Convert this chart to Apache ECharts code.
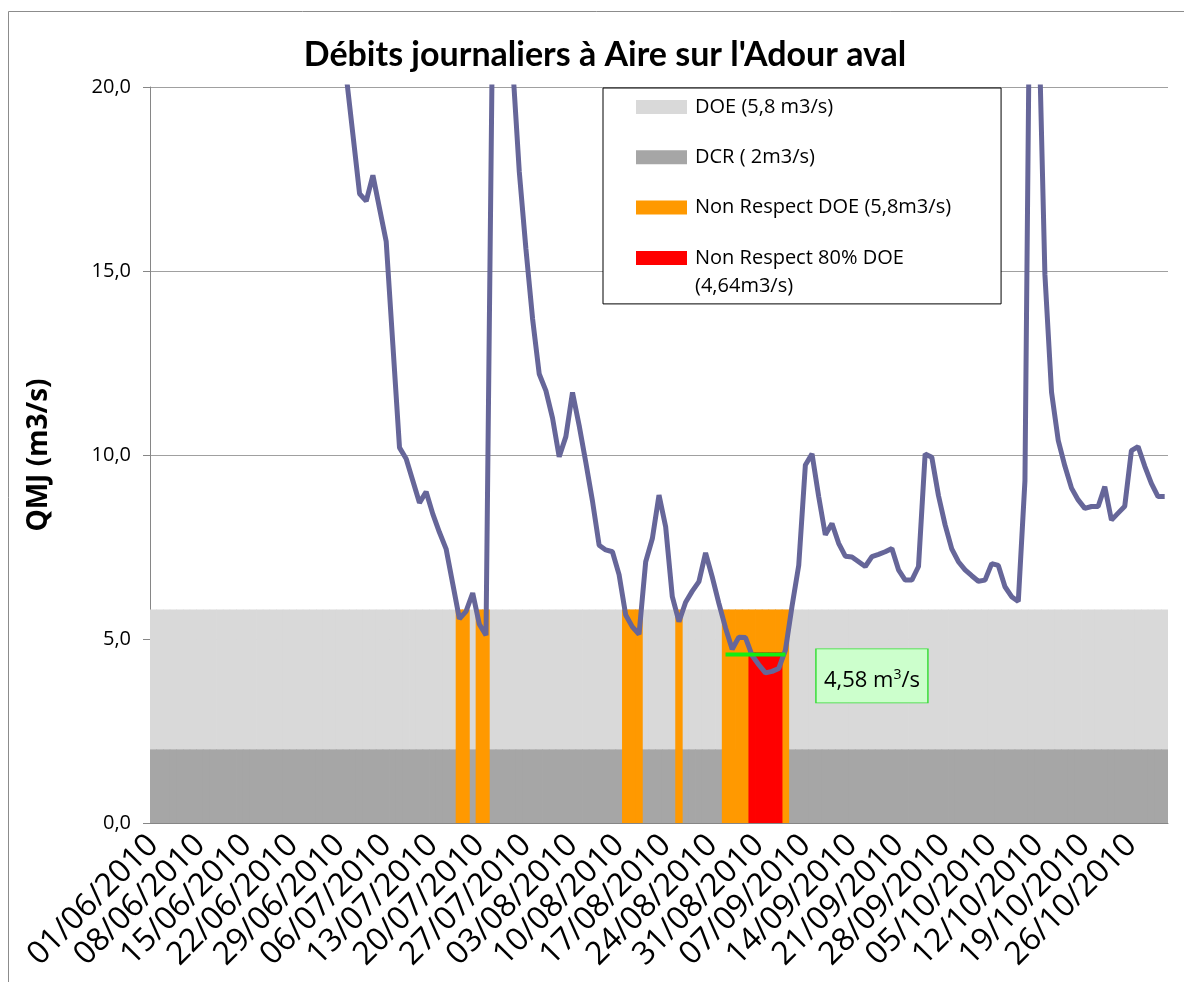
<!DOCTYPE html>
<html>
<head>
<meta charset="utf-8">
<script src="https://cdn.jsdelivr.net/npm/echarts@6/dist/echarts.min.js"></script>
<style>
html, body { margin: 0; padding: 0; background: #fff; }
#chart { width: 1184px; height: 982px; }
</style>
</head>
<body>
<div id="chart"></div>
<script>
// one category per day, 01/06/2010 -> 31/10/2010
const days = [];
for (let d = new Date(Date.UTC(2010, 5, 1)); d <= new Date(Date.UTC(2010, 9, 31)); d.setUTCDate(d.getUTCDate() + 1)) {
  const dd = String(d.getUTCDate()).padStart(2, '0');
  const mm = String(d.getUTCMonth() + 1).padStart(2, '0');
  days.push(dd + '/' + mm + '/2010');
}

// daily flow (m3/s), one row per week
const flow = [
  38, 41, 44, 40, 36, 33, 31,
  35, 42, 48, 45, 39, 35, 32,
  30, 34, 47, 55, 50, 43, 37,
  33, 30, 28, 27, 26, 25, 24,
  23, 20.3, 18.7, 17.1, 16.9, 17.6, 16.7,
  15.8, 13.0, 10.2, 9.9, 9.3, 8.7, 9.0,
  8.4, 7.9, 7.45, 6.5, 5.55, 5.75, 6.25,
  5.4, 5.1, 22, 36, 27, 20.6, 17.7,
  15.6, 13.7, 12.2, 11.75, 11.0, 9.95, 10.5,
  11.7, 10.8, 9.8, 8.75, 7.55, 7.42, 7.37,
  6.75, 5.65, 5.33, 5.13, 7.1, 7.73, 8.91,
  8.05, 6.15, 5.47, 6.0, 6.3, 6.56, 7.34,
  6.69, 5.97, 5.3, 4.72, 5.05, 5.04, 4.55,
  4.3, 4.08, 4.12, 4.2, 4.7, 5.9, 7.0,
  9.73, 10.03, 8.87, 7.83, 8.14, 7.6, 7.25,
  7.23, 7.1, 6.97, 7.24, 7.3, 7.37, 7.46,
  6.88, 6.6, 6.6, 6.97, 10.03, 9.94, 8.9,
  8.1, 7.45, 7.1, 6.88, 6.72, 6.57, 6.6,
  7.05, 7.0, 6.42, 6.15, 6.02, 9.3, 28.4,
  22.4, 14.9, 11.7, 10.4, 9.7, 9.1, 8.78,
  8.55, 8.6, 8.6, 9.14, 8.23, 8.42, 8.61,
  10.12, 10.23, 9.7, 9.23, 8.87, 8.87
];

const doeLevel = 5.8;
const dcrLevel = 2;
const doe80Level = 4.64;
const minFlow = 4.58;

const doeBreachDays = [
  '17/07/2010', '18/07/2010', '20/07/2010', '21/07/2010',
  '11/08/2010', '12/08/2010', '13/08/2010', '19/08/2010',
  '26/08/2010', '27/08/2010', '28/08/2010', '29/08/2010', '30/08/2010',
  '31/08/2010', '01/09/2010', '02/09/2010', '03/09/2010', '04/09/2010'
];
const doe80BreachDays = ['30/08/2010', '31/08/2010', '01/09/2010', '02/09/2010', '03/09/2010'];
const minFlowDays = [
  '26/08/2010', '27/08/2010', '28/08/2010', '29/08/2010', '30/08/2010',
  '31/08/2010', '01/09/2010', '02/09/2010', '03/09/2010', '04/09/2010'
];

const FONT = 'Open Sans';
const RED_NAME = 'Non Respect 80% DOE (4,64m3/s)';

function bandBar(name, color, data) {
  return {
    name: name,
    type: 'bar',
    data: data,
    barWidth: 7.4,
    barGap: '-100%',
    barCategoryGap: 0,
    itemStyle: { color: color },
    silent: true,
    animation: false
  };
}

const chart = echarts.init(document.getElementById('chart'));
const option = {
  backgroundColor: '#fff',
  animation: false,
  graphic: [
    {
      type: 'rect',
      z: -10,
      silent: true,
      shape: { x: 8.5, y: 11.5, width: 1300, height: 1100 },
      style: { fill: 'none', stroke: '#8C8C8C', lineWidth: 1 }
    },
    {
      // second line of the last legend entry (legend text is wrapped in the original)
      type: 'text',
      z: 100,
      silent: true,
      style: {
        x: 695,
        y: 286,
        text: '(4,64m3/s)',
        font: '20px "Open Sans"',
        fill: '#000',
        verticalAlign: 'middle'
      }
    }
  ],
  title: {
    text: "Débits journaliers à Aire sur l'Adour aval",
    left: 600,
    textAlign: 'center',
    top: 33,
    textStyle: { fontFamily: 'Lato', fontWeight: 'bold', fontSize: 34, color: '#000' }
  },
  legend: {
    orient: 'vertical',
    left: 603,
    top: 88,
    padding: [6, 50, 33, 33],
    itemGap: 24.3,
    itemWidth: 51,
    itemHeight: 14,
    borderColor: '#000',
    borderWidth: 1,
    backgroundColor: '#fff',
    icon: 'rect',
    textStyle: { fontFamily: FONT, fontSize: 20, color: '#000', lineHeight: 26, padding: [0, 0, 0, 3] },
    data: ['DOE (5,8 m3/s)', 'DCR ( 2m3/s)', 'Non Respect DOE (5,8m3/s)', RED_NAME],
    formatter: function (name) {
      return name === RED_NAME ? 'Non Respect 80% DOE' : name;
    }
  },
  grid: { left: 150, right: 16, top: 87, bottom: 159, containLabel: false },
  xAxis: {
    type: 'category',
    data: days,
    boundaryGap: true,
    axisLine: { lineStyle: { color: '#868686', width: 1 } },
    axisTick: {
      interval: function (i) { return i % 7 === 0; },
      length: 10,
      lineStyle: { color: '#868686' }
    },
    axisLabel: {
      interval: function (i) { return i % 7 === 0; },
      rotate: 45,
      margin: 17,
      fontFamily: FONT,
      fontSize: 32,
      color: '#000'
    }
  },
  yAxis: {
    type: 'value',
    min: 0,
    max: 20,
    interval: 5,
    name: 'QMJ (m3/s)',
    nameLocation: 'middle',
    nameGap: 97,
    nameTextStyle: { fontFamily: FONT, fontWeight: 'bold', fontSize: 28, color: '#000' },
    axisLine: { show: true, lineStyle: { color: '#868686' } },
    axisTick: { show: true, length: 7, lineStyle: { color: '#868686' } },
    splitLine: { lineStyle: { color: '#A0A0A0' } },
    axisLabel: {
      margin: 19,
      fontFamily: FONT,
      fontSize: 20,
      color: '#000',
      formatter: function (v) { return v.toFixed(1).replace('.', ','); }
    }
  },
  series: [
    bandBar('DOE (5,8 m3/s)', '#D9D9D9', days.map(function () { return doeLevel; })),
    bandBar('DCR ( 2m3/s)', '#A6A6A6', days.map(function () { return dcrLevel; })),
    bandBar('Non Respect DOE (5,8m3/s)', '#FF9900',
      days.map(function (d) { return doeBreachDays.indexOf(d) >= 0 ? doeLevel : '-'; })),
    bandBar(RED_NAME, '#FF0000',
      days.map(function (d) { return doe80BreachDays.indexOf(d) >= 0 ? doe80Level : '-'; })),
    {
      name: 'QMJ',
      type: 'line',
      data: flow,
      symbol: 'none',
      lineStyle: { color: '#666699', width: 5 },
      itemStyle: { color: '#666699' },
      z: 5,
      silent: true
    },
    {
      name: 'min',
      type: 'line',
      data: days.map(function (d) { return minFlowDays.indexOf(d) >= 0 ? minFlow : '-'; }),
      symbol: 'none',
      lineStyle: { color: '#11EE11', width: 4 },
      itemStyle: { color: '#11EE11' },
      z: 6,
      silent: true,
      markPoint: {
        silent: true,
        data: [{
          coord: ['17/09/2010', 4.0],
          symbol: 'rect',
          symbolSize: [112, 54],
          itemStyle: { color: '#CCFFCC', borderColor: '#33DD33', borderWidth: 1 },
          label: {
            show: true,
            position: 'inside',
            offset: [0, 5],
            formatter: '{a|4,58 m}{s|3}{a|/s}',
            rich: {
              a: { fontFamily: FONT, fontSize: 22, color: '#000' },
              s: { fontFamily: FONT, fontSize: 14, color: '#000', padding: [0, 0, 12, 0] }
            }
          }
        }]
      }
    }
  ]
};
chart.setOption(option);
</script>
</body>
</html>
